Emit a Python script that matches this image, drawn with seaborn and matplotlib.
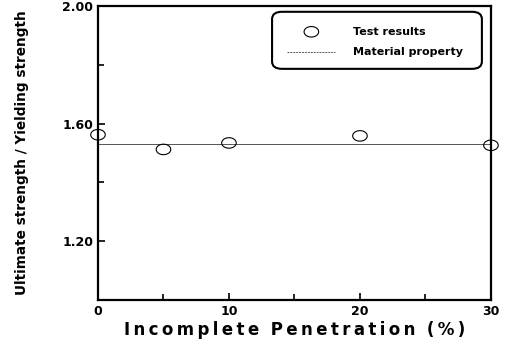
import numpy as np
import pandas as pd
import seaborn as sns
import matplotlib.pyplot as plt
from matplotlib.path import Path
from matplotlib.patches import FancyBboxPatch
from matplotlib.ticker import MultipleLocator

# values
penetration = [0, 5, 10, 20, 30]
ratio = [1.562, 1.512, 1.534, 1.558, 1.526]
material_ratio = 1.53
x_ticks = [0, 10, 20, 30]
y_ticks = [1.20, 1.60, 2.00]

sns.set_theme(style='ticks')
plt.rcParams['font.family'] = ['DejaVu Sans']
plt.rcParams.update({'text.color': 'black', 'axes.labelcolor': 'black',
                     'xtick.color': 'black', 'ytick.color': 'black', 'axes.edgecolor': 'black'})

df = pd.DataFrame({'Incomplete Penetration (%)': penetration, 'ratio': ratio})
line_df = pd.DataFrame({'x': [0, 30], 'y': [material_ratio, material_ratio]})

# open ellipse marker, a bit wider than tall
t = np.linspace(0, 2 * np.pi, 60)
ellipse = Path(np.column_stack([np.cos(t), 0.72 * np.sin(t)]))

fig = plt.figure(figsize=(5.13, 3.48), dpi=100)
ax = fig.add_axes([0.191, 0.138, 0.766, 0.845])

sns.lineplot(ax=ax, data=line_df, x='x', y='y', color='#555555', lw=0.7, legend=False)
sns.scatterplot(ax=ax, data=df, x='Incomplete Penetration (%)', y='ratio', marker=ellipse,
                s=110, facecolor='none', edgecolor='black', linewidth=0.8, clip_on=False, zorder=5)

ax.set_xlim(0, 30)
ax.set_ylim(1.0, 2.0)
ax.set_xticks(x_ticks)
ax.set_yticks(y_ticks)
ax.set_yticklabels([f'{v:.2f}' for v in y_ticks])
ax.xaxis.set_minor_locator(MultipleLocator(5))
ax.yaxis.set_minor_locator(MultipleLocator(0.2))
ax.tick_params(which='both', direction='in', width=1.2, labelsize=9)
ax.tick_params(which='major', length=5)
ax.tick_params(which='minor', length=4)
for lab in ax.get_xticklabels() + ax.get_yticklabels():
    lab.set_fontweight('bold')
for s in ax.spines.values():
    s.set_linewidth(1.6)

xlab = '  '.join('\u2009'.join(w) for w in ['Incomplete', 'Penetration', '(%)'])
ax.set_xlabel(xlab, fontsize=12, fontweight='bold', labelpad=2)
ax.set_ylabel('Ultimate strength / Yielding strength', fontsize=9.8, fontweight='bold',
              labelpad=24)

# rounded legend box drawn by hand to get the look of the original
box = FancyBboxPatch((0.443, 0.786), 0.534, 0.194, boxstyle='round,pad=0.0,rounding_size=0.025',
                     transform=ax.transAxes, facecolor='white', edgecolor='black', lw=1.5, zorder=6)
ax.add_patch(box)
ax.scatter([0.543], [0.912], transform=ax.transAxes, marker=ellipse, s=110, facecolor='none',
           edgecolor='black', linewidth=0.8, zorder=7)
ax.plot([0.481, 0.603], [0.844, 0.844], transform=ax.transAxes, color='#555555', lw=0.7,
        ls=(0, (2, 1)), zorder=7)
ax.text(0.649, 0.912, 'Test results', transform=ax.transAxes, fontsize=8, fontweight='bold',
        va='center', zorder=7)
ax.text(0.649, 0.844, 'Material property', transform=ax.transAxes, fontsize=8, fontweight='bold',
        va='center', zorder=7)

fig.savefig('out.png', dpi=100)
